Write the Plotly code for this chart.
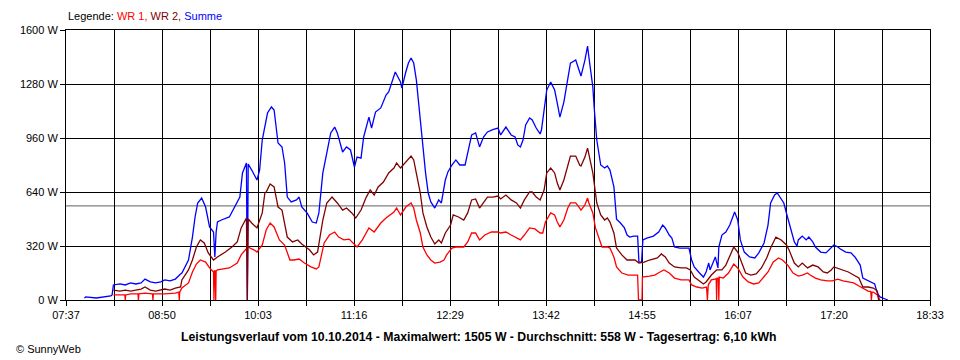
import pandas as pd
import plotly.graph_objects as go

DATE = "2014-10-10"

# ---- Summe (blue) ----
T_SUM = [
    "07:51", "07:52", "08:00", "08:07", "08:11", "08:12", "08:13", "08:18", "08:22", "08:26",
    "08:30", "08:34", "08:37", "08:41", "08:45", "08:49", "08:52", "08:56", "09:00", "09:04",
    "09:05", "09:10", "09:13", "09:15", "09:17", "09:20", "09:23", "09:26", "09:29", "09:30",
    "09:31", "09:32", "09:35", "09:41", "09:45", "09:49", "09:51", "09:54", "09:54:40", "09:55:20",
    "09:58", "10:02", "10:04", "10:06", "10:10", "10:13", "10:15", "10:18", "10:21", "10:23",
    "10:25", "10:28", "10:32", "10:34", "10:36", "10:40", "10:44", "10:47", "10:49", "10:52",
    "10:55", "10:58", "11:01", "11:03", "11:07", "11:10", "11:13", "11:16", "11:18", "11:21",
    "11:23", "11:27", "11:29", "11:32", "11:36", "11:40", "11:42", "11:44", "11:47", "11:51",
    "11:52", "11:55", "11:57", "11:59", "12:01", "12:03", "12:05", "12:07", "12:10", "12:12",
    "12:14", "12:17", "12:20", "12:22", "12:25", "12:27", "12:30", "12:33", "12:36", "12:40",
    "12:42", "12:45", "12:48", "12:51", "12:54", "12:57", "13:01", "13:05", "13:07", "13:11",
    "13:15", "13:18", "13:20", "13:22", "13:24", "13:26", "13:29", "13:31", "13:34", "13:37",
    "13:38", "13:40", "13:42", "13:45", "13:48", "13:50", "13:52", "13:55", "13:58", "14:00",
    "14:04", "14:07", "14:08", "14:11", "14:13", "14:14", "14:17", "14:18", "14:20", "14:23",
    "14:26", "14:28", "14:30", "14:33", "14:35", "14:38", "14:41", "14:43", "14:45", "14:48",
    "14:51", "14:52", "14:54", "14:55", "14:58", "15:03", "15:07", "15:10", "15:12", "15:15",
    "15:17", "15:19", "15:23", "15:27", "15:30", "15:32", "15:34", "15:38", "15:41", "15:43",
    "15:45", "15:46", "15:49", "15:50", "15:52", "15:52:40", "15:55", "15:58", "16:01", "16:04",
    "16:04:40", "16:07", "16:09", "16:12", "16:16", "16:20", "16:23", "16:27", "16:30", "16:32",
    "16:35", "16:37", "16:39", "16:42", "16:45", "16:47", "16:50", "16:52", "16:53", "16:56",
    "16:59", "17:01", "17:04", "17:06", "17:10", "17:14", "17:18", "17:20", "17:23", "17:25",
    "17:29", "17:33", "17:36", "17:40", "17:42", "17:45", "17:49", "17:51", "17:53", "17:55",
    "17:59", "18:01",
]
V_SUM = [
    12, 18, 12, 18, 24, 30, 89, 95, 89, 101,
    95, 101, 124, 107, 101, 107, 119, 113, 124, 154,
    160, 237, 373, 492, 575, 604, 551, 433, 403, 255,
    403, 462, 474, 492, 551, 610, 753, 812, 0, 806,
    770, 711, 770, 948, 1108, 1144, 1126, 930, 907, 812,
    610, 581, 593, 610, 551, 516, 462, 456, 516, 753,
    871, 990, 1025, 990, 877, 907, 889, 788, 847, 841,
    966, 1084, 1019, 1114, 1138, 1215, 1233, 1286, 1351, 1292,
    1256, 1351, 1404, 1434, 1404, 1304, 1144, 948, 753, 634,
    581, 545, 593, 575, 711, 759, 800, 830, 800, 800,
    871, 978, 990, 907, 966, 996, 1010, 1019, 978, 1025,
    978, 966, 919, 907, 948, 1037, 1079, 1067, 1019, 984,
    1007, 1144, 1244, 1292, 1244, 1167, 1084, 1173, 1304, 1404,
    1422, 1345, 1327, 1422, 1505, 1440, 1262, 1144, 948, 800,
    782, 794, 770, 670, 479, 456, 427, 385, 373, 379,
    379, 225, 225, 356, 367, 379, 403, 444, 427, 385,
    367, 314, 308, 308, 308, 237, 196, 160, 136, 166,
    219, 178, 237, 255, 190, 314, 385, 403, 444, 504,
    521, 474, 356, 284, 255, 249, 279, 338, 444, 575,
    622, 634, 610, 575, 486, 433, 344, 320, 356, 379,
    356, 373, 344, 314, 284, 279, 308, 326, 314, 302,
    284, 279, 255, 207, 130, 119, 107, 95, 41, 18,
    6, 0,
]

# ---- WR 1 (red) ----
T_WR1 = [
    "08:13", "08:18", "08:21:40", "08:22", "08:22:20", "08:26", "08:31:40", "08:32", "08:32:20", "08:37",
    "08:42:40", "08:43", "08:43:20", "08:49", "08:52", "09:00", "09:02:40", "09:03", "09:03:20", "09:05",
    "09:10", "09:13", "09:16", "09:19", "09:23", "09:26", "09:29", "09:29:20", "09:29:40", "09:30:20",
    "09:30:40", "09:31", "09:32", "09:41", "09:47", "09:50", "09:55", "10:00", "10:02", "10:06",
    "10:09", "10:12", "10:15", "10:19", "10:23", "10:27", "10:30", "10:34", "10:38", "10:43",
    "10:47", "10:49", "10:53", "10:57", "11:01", "11:04", "11:08", "11:12", "11:16", "11:18",
    "11:22", "11:27", "11:31", "11:36", "11:40", "11:46", "11:48", "11:51", "11:55", "11:59",
    "12:01", "12:03", "12:06", "12:08", "12:11", "12:14", "12:17", "12:21", "12:24", "12:26",
    "12:30", "12:33", "12:39", "12:42", "12:45", "12:48", "12:51", "12:55", "13:00", "13:05",
    "13:07", "13:11", "13:15", "13:19", "13:22", "13:25", "13:29", "13:33", "13:37", "13:39",
    "13:41", "13:45", "13:48", "13:50", "13:52", "13:55", "13:58", "14:00", "14:04", "14:07",
    "14:08", "14:11", "14:13", "14:14", "14:17", "14:19", "14:22", "14:24", "14:28", "14:30",
    "14:33", "14:35", "14:39", "14:44", "14:51", "14:51:40", "14:54:20", "14:54:40", "15:00", "15:04",
    "15:08", "15:11", "15:15", "15:19", "15:24", "15:30", "15:32", "15:36", "15:40", "15:43:20",
    "15:44", "15:44:40", "15:47", "15:50:40", "15:51", "15:51:20", "15:52:20", "15:52:40", "15:53", "15:56",
    "16:00", "16:03", "16:04", "16:07", "16:11", "16:15", "16:19", "16:23", "16:26", "16:30",
    "16:34", "16:38", "16:41", "16:45", "16:49", "16:53", "16:56", "17:00", "17:02", "17:06",
    "17:10", "17:15", "17:19", "17:23", "17:27", "17:31", "17:35", "17:39", "17:42", "17:46",
    "17:48", "17:48:30", "17:49", "17:50", "17:53", "17:55",
]
V_WR1 = [
    30, 30, 30, 0, 30, 36, 36, 0, 36, 41,
    36, 0, 36, 36, 36, 41, 47, 0, 47, 71,
    101, 166, 213, 237, 225, 190, 166, 0, 172, 172,
    0, 172, 178, 190, 219, 267, 314, 296, 284, 326,
    415, 456, 433, 356, 326, 237, 237, 243, 219, 196,
    184, 196, 338, 385, 403, 373, 356, 361, 326, 314,
    356, 427, 403, 456, 486, 521, 545, 504, 551, 575,
    545, 474, 397, 314, 267, 237, 219, 225, 237, 267,
    308, 314, 314, 344, 397, 397, 356, 385, 403, 403,
    397, 403, 385, 367, 356, 385, 427, 421, 397, 397,
    462, 516, 504, 462, 433, 474, 545, 575, 575, 545,
    533, 563, 604, 575, 516, 427, 356, 314, 314, 308,
    255, 196, 160, 148, 148, 0, 0, 136, 142, 148,
    166, 178, 160, 130, 119, 119, 89, 77, 71, 77,
    0, 90, 119, 125, 0, 130, 130, 0, 136, 130,
    160, 201, 213, 190, 136, 107, 95, 101, 130, 166,
    225, 249, 237, 207, 160, 142, 148, 160, 148, 130,
    119, 113, 113, 124, 113, 107, 101, 83, 71, 53,
    50, 0, 47, 47, 30, 0,
]

# ---- WR 2 (dark red) ----
T_WR2 = [
    "08:13", "08:18", "08:22", "08:26", "08:30", "08:34", "08:37", "08:41", "08:45", "08:49",
    "08:52", "08:56", "09:00", "09:04", "09:05", "09:10", "09:13", "09:16", "09:19", "09:22",
    "09:25", "09:29", "09:32", "09:38", "09:43", "09:47", "09:50", "09:54", "09:54:40", "09:55:20",
    "09:58", "10:02", "10:06", "10:08", "10:09", "10:12", "10:15", "10:18", "10:21", "10:25",
    "10:29", "10:33", "10:36", "10:42", "10:45", "10:48", "10:52", "10:55", "10:59", "11:03",
    "11:07", "11:10", "11:14", "11:17", "11:21", "11:25", "11:28", "11:31", "11:34", "11:38",
    "11:42", "11:46", "11:48", "11:51", "11:53", "11:56", "11:59", "12:01", "12:03", "12:06",
    "12:08", "12:11", "12:14", "12:17", "12:20", "12:22", "12:25", "12:29", "12:31", "12:35",
    "12:39", "12:42", "12:45", "12:48", "12:51", "12:54", "12:57", "13:01", "13:05", "13:07",
    "13:11", "13:15", "13:19", "13:22", "13:25", "13:29", "13:31", "13:34", "13:37", "13:40",
    "13:42", "13:45", "13:48", "13:50", "13:52", "13:55", "13:58", "14:00", "14:04", "14:07",
    "14:08", "14:11", "14:13", "14:14", "14:17", "14:19", "14:20", "14:23", "14:26", "14:28",
    "14:30", "14:33", "14:35", "14:39", "14:43", "14:45", "14:49", "14:52", "14:56", "15:00",
    "15:06", "15:09", "15:12", "15:15", "15:19", "15:24", "15:28", "15:31", "15:34", "15:37",
    "15:41", "15:43", "15:47", "15:51", "15:55", "15:58", "16:02", "16:04", "16:07", "16:10",
    "16:13", "16:17", "16:21", "16:25", "16:29", "16:32", "16:36", "16:40", "16:44", "16:46",
    "16:50", "16:53", "16:56", "17:00", "17:04", "17:08", "17:12", "17:15", "17:18", "17:20",
    "17:24", "17:27", "17:31", "17:35", "17:39", "17:42", "17:46", "17:50", "17:53", "17:54",
]
V_WR2 = [
    59, 53, 59, 53, 59, 65, 77, 59, 53, 59,
    65, 59, 71, 77, 119, 178, 237, 314, 356, 338,
    279, 237, 255, 284, 314, 344, 427, 486, 0, 480,
    456, 427, 516, 634, 640, 687, 670, 551, 533, 373,
    344, 356, 332, 296, 267, 284, 474, 575, 610, 575,
    533, 545, 516, 486, 533, 610, 652, 622, 670, 699,
    753, 782, 812, 782, 800, 830, 853, 830, 753, 634,
    516, 433, 373, 332, 356, 338, 397, 444, 504, 492,
    474, 516, 593, 599, 545, 575, 610, 610, 616, 599,
    622, 593, 575, 545, 593, 640, 640, 610, 593, 652,
    753, 782, 753, 693, 652, 711, 788, 853, 853, 800,
    794, 847, 900, 859, 753, 634, 575, 504, 474, 486,
    462, 397, 308, 267, 237, 237, 237, 219, 225, 237,
    249, 273, 255, 219, 196, 190, 190, 178, 136, 119,
    95, 107, 148, 178, 178, 207, 279, 314, 284, 225,
    160, 148, 154, 190, 249, 308, 373, 356, 326, 296,
    219, 196, 219, 190, 207, 196, 166, 160, 178, 196,
    184, 178, 166, 148, 130, 77, 77, 71, 53, 0,
]

AVERAGE_W = 558
Y_TICKS = [0, 320, 640, 960, 1280, 1600]
X_LABELS = ["07:37", "08:50", "10:03", "11:16", "12:29", "13:42", "14:55", "16:07", "17:20", "18:33"]
TITLE = ("Leistungsverlauf vom 10.10.2014 - Maximalwert: 1505 W - "
         "Durchschnitt: 558 W - Tagesertrag: 6,10 kWh")


def to_dt(times):
    return pd.to_datetime([f"{DATE} {t if len(t) == 8 else t + ':00'}" for t in times])


x_start = pd.Timestamp(f"{DATE} {X_LABELS[0]}:00")
x_end = pd.Timestamp(f"{DATE} {X_LABELS[-1]}:00")
grid_vals = pd.date_range(x_start, x_end, periods=2 * len(X_LABELS) - 1)
grid_text = []
for i in range(len(grid_vals)):
    grid_text.append(X_LABELS[i // 2] if i % 2 == 0 else "")

FONT = "Liberation Sans, Arial, sans-serif"

fig = go.Figure()
fig.add_trace(go.Scatter(x=to_dt(T_SUM), y=V_SUM, mode="lines", name="Summe",
                         line=dict(color="#0000FF", width=1.3)))
fig.add_trace(go.Scatter(x=to_dt(T_WR1), y=V_WR1, mode="lines", name="WR 1",
                         line=dict(color="#FF0000", width=1.3)))
fig.add_trace(go.Scatter(x=to_dt(T_WR2), y=V_WR2, mode="lines", name="WR 2",
                         line=dict(color="#800000", width=1.3)))

fig.add_shape(type="line", xref="paper", x0=0, x1=1, yref="y", y0=AVERAGE_W, y1=AVERAGE_W,
              line=dict(color="#808080", width=1.2), layer="between")

# the page body has an 8 px margin, so the figure is sized/offset to compensate
fig.update_layout(
    width=952, height=352,
    margin=dict(l=52, r=30, t=22, b=60),
    paper_bgcolor="white", plot_bgcolor="white",
    showlegend=False,
    font=dict(family=FONT, size=11, color="black"),
    xaxis=dict(
        type="date", range=[x_start, x_end],
        tickmode="array", tickvals=list(grid_vals), ticktext=grid_text,
        showgrid=True, gridcolor="black", gridwidth=1,
        ticks="outside", ticklen=5, tickcolor="black", tickwidth=1,
        showline=True, linecolor="black", linewidth=1, mirror=True,
        zeroline=False, tickfont=dict(size=11, color="black"),
    ),
    yaxis=dict(
        range=[0, 1600],
        tickmode="array", tickvals=Y_TICKS, ticktext=[f"{v} W" for v in Y_TICKS],
        showgrid=True, gridcolor="black", gridwidth=1,
        ticks="outside", ticklen=5, tickcolor="black", tickwidth=1,
        showline=True, linecolor="black", linewidth=1, mirror=True,
        zeroline=False, tickfont=dict(size=11, color="black"),
    ),
    annotations=[
        dict(xref="paper", yref="paper", x=0, y=1 + 14 / 270, xanchor="left", yanchor="middle",
             showarrow=False, font=dict(size=11, color="black"),
             text=("Legende: <span style='color:#FF0000'>WR 1,</span> "
                   "<span style='color:#800000'>WR 2,</span> "
                   "<span style='color:#0000FF'>Summe</span>")),
        dict(xref="paper", yref="paper", x=0.477, y=-37 / 270, xanchor="center", yanchor="middle",
             showarrow=False, font=dict(size=12.25, color="black"), text=f"<b>{TITLE}</b>"),
        dict(xref="paper", yref="paper", x=-52 / 870, y=-49 / 270, xanchor="left", yanchor="middle",
             showarrow=False, font=dict(size=11, color="black"), text="© SunnyWeb"),
    ],
)

fig.write_html("out.html")
